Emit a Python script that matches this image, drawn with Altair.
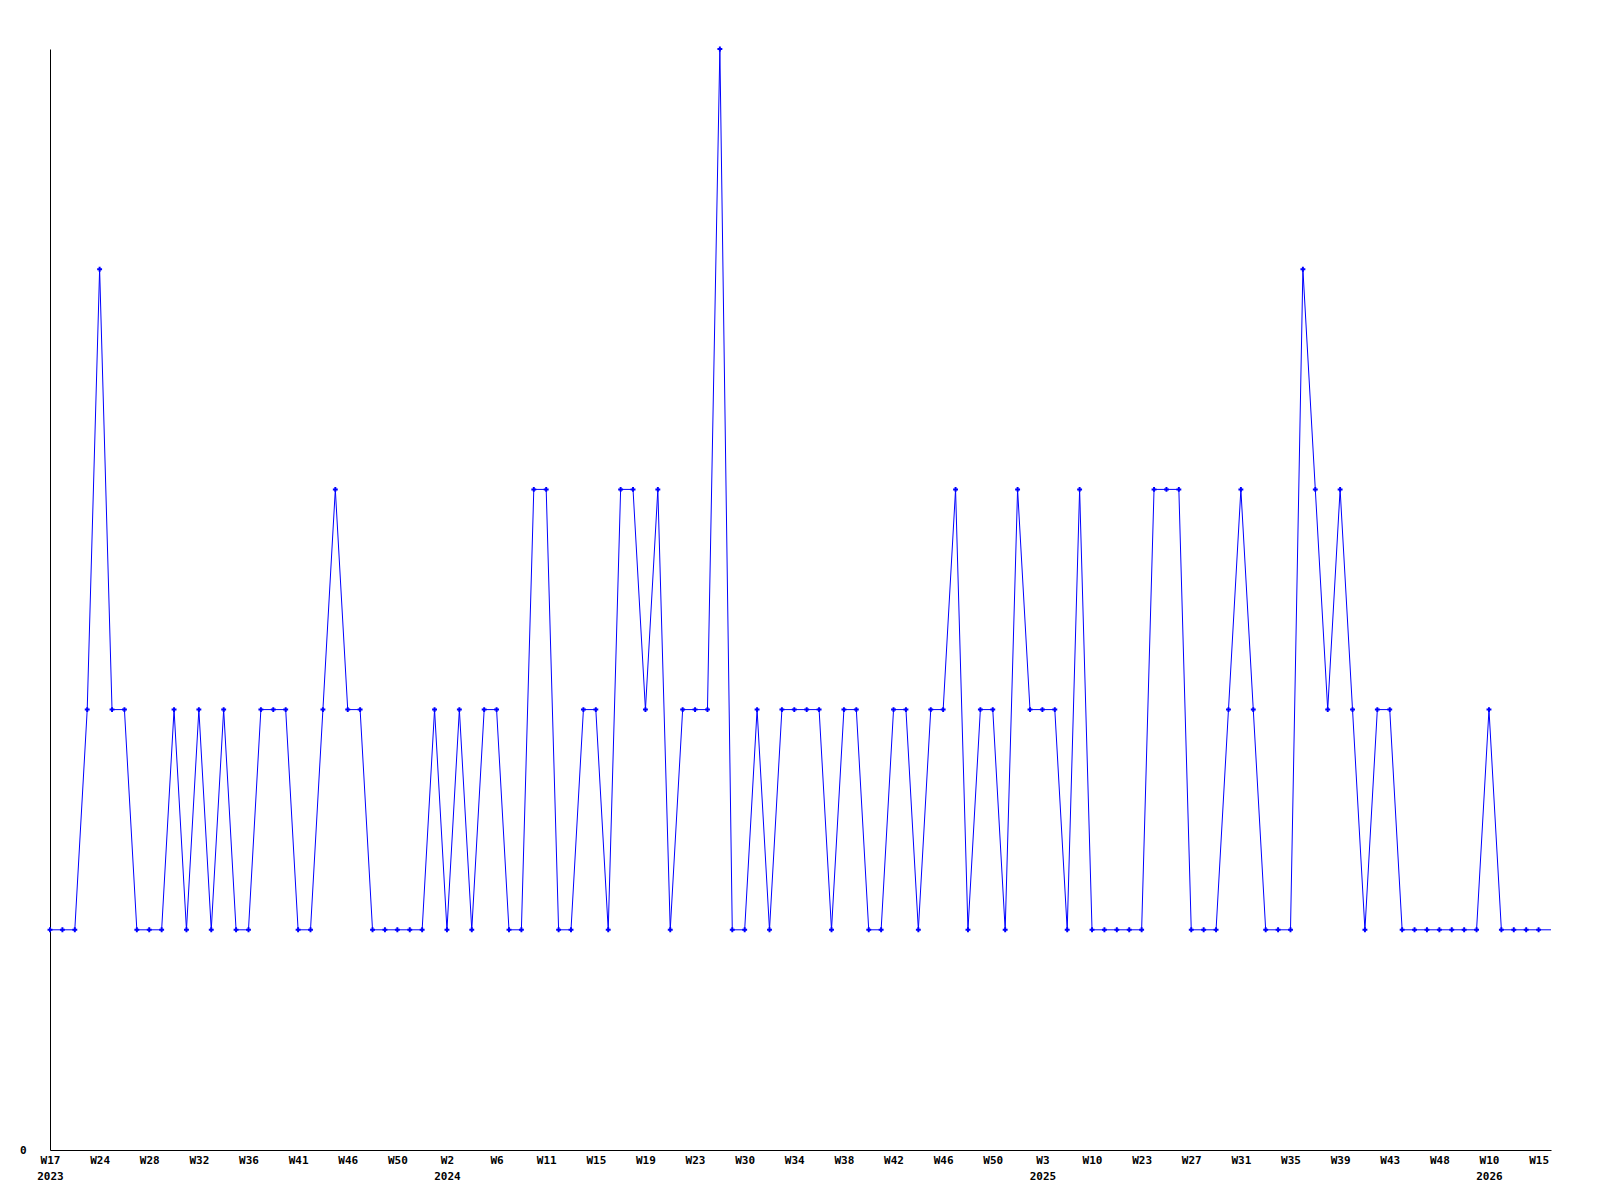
import altair as alt
import pandas as pd

# weekly values, one per data point (index 0..120); the last entry is the unmarked tail
values = [1, 1, 1, 2, 4, 2, 2, 1, 1, 1,
          2, 1, 2, 1, 2, 1, 1, 2, 2, 2,
          1, 1, 2, 3, 2, 2, 1, 1, 1, 1,
          1, 2, 1, 2, 1, 2, 2, 1, 1, 3,
          3, 1, 1, 2, 2, 1, 3, 3, 2, 3,
          1, 2, 2, 2, 5, 1, 1, 2, 1, 2,
          2, 2, 2, 1, 2, 2, 1, 1, 2, 2,
          1, 2, 2, 3, 1, 2, 2, 1, 3, 2,
          2, 2, 1, 3, 1, 1, 1, 1, 1, 3,
          3, 3, 1, 1, 1, 2, 3, 2, 1, 1,
          1, 4, 3, 2, 3, 2, 1, 2, 2, 1,
          1, 1, 1, 1, 1, 1, 2, 1, 1, 1,
          1]
tail_value = 1

# tick labels, one every 4th point
week_labels = ["W17", "W24", "W28", "W32", "W36", "W41", "W46", "W50", "W2", "W6",
               "W11", "W15", "W19", "W23", "W30", "W34", "W38", "W42", "W46", "W50",
               "W3", "W10", "W23", "W27", "W31", "W35", "W39", "W43", "W48", "W10",
               "W15"]
year_labels = ["2023", "", "", "", "", "", "", "", "2024", "",
               "", "", "", "", "", "", "", "", "", "",
               "2025", "", "", "", "", "", "", "", "", "2026",
               ""]

n = len(values)
df = pd.DataFrame({"i": list(range(n)) + [n], "v": values + [tail_value],
                   "marked": [True] * n + [False]})

lbl_arr = "[" + ",".join(
    '["%s","%s"]' % (w, y) for w, y in zip(week_labels, year_labels)) + "]"
label_expr = lbl_arr + "[round(datum.value/4)]"

FONT = "DejaVu Sans Mono"
BLUE = "#0000ff"

x = alt.X("i:Q", scale=alt.Scale(domain=[0, n], nice=False, zero=False),
          axis=alt.Axis(values=list(range(0, n, 4)), labelExpr=label_expr,
                        title=None, grid=False, ticks=False, domainColor="black",
                        labelFont=FONT, labelFontSize=11, labelFontWeight="bold",
                        labelColor="black", labelPadding=4, labelLineHeight=16,
                        labelOverlap=False, labelFlush=False, labelBound=False))
y = alt.Y("v:Q", scale=alt.Scale(domain=[0, 5], nice=False),
          axis=alt.Axis(values=[0], title=None, grid=False, ticks=False,
                        domainColor="black", labelFont=FONT, labelFontSize=11,
                        labelFontWeight="bold", labelColor="black",
                        labelPadding=24))

line = alt.Chart(df).mark_line(color=BLUE, strokeWidth=1).encode(x=x, y=y)
pts = alt.Chart(df).transform_filter("datum.marked").mark_point(
    shape="cross", size=24, filled=True, color=BLUE, opacity=1).encode(x=x, y=y)

chart = alt.layer(line, pts).properties(
    width=1501, height=1101,
    background="white",
    autosize=alt.AutoSizeParams(type="none"),
    padding={"left": 42, "top": 41, "right": 30, "bottom": 40},
).configure_view(stroke="transparent", strokeWidth=0)

chart.save("out.html", embed_options={"renderer": "svg", "actions": False})
